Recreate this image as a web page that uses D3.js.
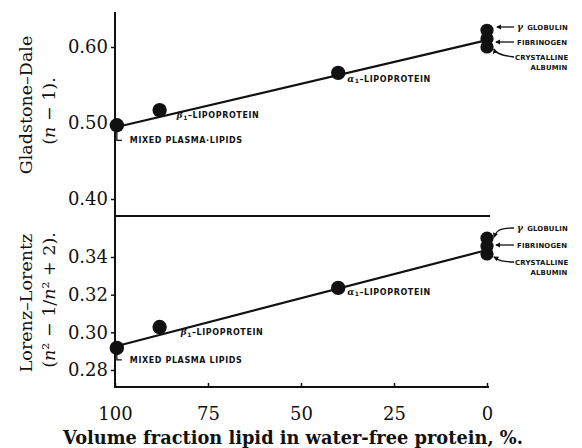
<html>
<head>
<meta charset="utf-8">
<script src="https://cdnjs.cloudflare.com/ajax/libs/d3/7.8.5/d3.min.js"></script>
<style>
body { margin: 0; background: #fff; }
svg text { fill: #111; }
.axis path.domain { display: none; }
.axis line { stroke: #111; stroke-width: 1.5; }
.axis text { font-family: "DejaVu Serif", serif; font-size: 18px; fill: #111; }
.frame { stroke: #111; stroke-width: 2; fill: none; }
.fit { stroke: #111; stroke-width: 2.2; fill: none; }
.lbl { font-family: "DejaVu Sans", sans-serif; font-weight: bold; font-size: 8px; letter-spacing: 0.6px; }
.rlbl { font-family: "DejaVu Sans", sans-serif; font-weight: bold; font-size: 6.9px; letter-spacing: 0.2px; }
.ytitle { font-family: "DejaVu Serif", serif; font-size: 17.5px; }
.xtitle { font-family: "DejaVu Serif", serif; font-size: 17.8px; font-weight: bold; }
.lead { stroke: #111; stroke-width: 1.3; fill: none; }
</style>
</head>
<body>
<script>
// values
var xTicks = [100, 75, 50, 25, 0]
var gdTicks = [0.40, 0.50, 0.60]
var llTicks = [0.28, 0.30, 0.32, 0.34]

var proteins = ["MIXED PLASMA LIPIDS", "LIPOPROTEIN", "LIPOPROTEIN", "GLOBULIN", "FIBRINOGEN", "CRYSTALLINE ALBUMIN"]
var lipidPct = [99.5, 88, 40, 0, 0, 0]
var gladstoneDale = [0.497, 0.517, 0.566, 0.622, 0.611, 0.600]
var lorenzLorentz = [0.2917, 0.3028, 0.3236, 0.3500, 0.3458, 0.3416]

var fitX = [98.4, 0]
var gdFit = [0.496, 0.609]
var llFit = [0.2933, 0.3437]

var W = 582, H = 448

var x = d3.scaleLinear().domain([100, 0]).range([115, 487])
var yTop = d3.scaleLinear().domain([0.40, 0.60]).range([199, 47])
var yBot = d3.scaleLinear().domain([0.28, 0.34]).range([370, 257])

var svg = d3.select("body").append("svg")
    .attr("width", W)
    .attr("height", H)

// frame: left axis, divider, bottom axis
svg.append("path").attr("class", "frame")
    .attr("d", "M115,12V387H489")
svg.append("path").attr("class", "frame")
    .attr("d", "M115,216H490")

svg.append("g").attr("class", "axis")
    .attr("transform", "translate(115,0)")
    .call(d3.axisLeft(yTop).tickValues(gdTicks).tickFormat(d3.format(".2f")).tickSize(4).tickPadding(3))

svg.append("g").attr("class", "axis")
    .attr("transform", "translate(115,0)")
    .call(d3.axisLeft(yBot).tickValues(llTicks).tickFormat(d3.format(".2f")).tickSize(4).tickPadding(3))

svg.append("g").attr("class", "axis")
    .attr("transform", "translate(0,387)")
    .call(d3.axisBottom(x).tickValues(xTicks).tickFormat(d3.format("d")).tickSizeInner(-4).tickSizeOuter(0).tickPadding(20))

// fitted lines
var line = d3.line()
function fitPts(ys, yScale) {
  return fitX.map((v, i) => [x(v), yScale(ys[i])])
}
svg.append("path").attr("class", "fit").attr("d", line(fitPts(gdFit, yTop)))
svg.append("path").attr("class", "fit").attr("d", line(fitPts(llFit, yBot)))

// points
function dots(vals, yScale) {
  svg.append("g").selectAll("circle")
    .data(vals)
    .join("circle")
    .attr("cx", (d, i) => x(lipidPct[i]))
    .attr("cy", d => yScale(d))
    .attr("r", (d, i) => i < 3 ? 7.2 : 6.6)
    .attr("fill", "#111")
}
dots(gladstoneDale, yTop)
dots(lorenzLorentz, yBot)

// annotations
function notes(vals, yScale, g) {
  var p = vals.map((d, i) => [x(lipidPct[i]), yScale(d)])

  // mixed plasma lipids with L leader
  svg.append("path").attr("class", "lead")
    .attr("d", "M" + (p[0][0]) + "," + (p[0][1] + 6) + "v" + (g.mixDy - 4) + "h5")
  svg.append("text").attr("class", "lbl")
    .attr("x", p[0][0] + 13).attr("y", p[0][1] + g.mixDy + 5)
    .text(g.mixText)

  // beta 1
  var b = svg.append("text").attr("class", "lbl")
    .attr("x", p[1][0] + g.b1Dx).attr("y", p[1][1] + g.b1Dy)
  b.append("tspan").attr("font-family", "DejaVu Serif").attr("font-style", "italic").attr("font-size", "9px").text("β")
  b.append("tspan").attr("font-size", "6px").attr("dy", 1.5).text("1")
  b.append("tspan").attr("dy", -1.5).text("–" + proteins[1])

  // alpha 1
  var a = svg.append("text").attr("class", "lbl")
    .attr("x", p[2][0] + 9).attr("y", p[2][1] + g.a1Dy)
  a.append("tspan").attr("font-family", "DejaVu Serif").attr("font-style", "italic").attr("font-size", "9px").text("α")
  a.append("tspan").attr("font-size", "6px").attr("dy", 1.5).text("1")
  a.append("tspan").attr("dy", -1.5).text("–" + proteins[2])

  // right-hand cluster
  var lx = 517
  var gl = svg.append("text").attr("class", "rlbl").attr("x", lx).attr("y", g.gY + 2.5)
  gl.append("tspan").attr("font-family", "DejaVu Serif").attr("font-style", "italic").attr("font-size", "9px").text("γ")
  gl.append("tspan").attr("dx", 4).text(proteins[3])
  svg.append("text").attr("class", "rlbl").attr("x", lx).attr("y", g.fY + 2.5).text(proteins[4])
  svg.append("text").attr("class", "rlbl").attr("x", lx - 2).attr("y", g.cY + 2.5).text("CRYSTALLINE")
  svg.append("text").attr("class", "rlbl").attr("x", lx + 32).attr("y", g.cY + 13)
    .attr("text-anchor", "middle").text("ALBUMIN")

  var cx = p[3][0] + 7
  svg.append("path").attr("class", "lead").attr("marker-end", "url(#ah)")
    .attr("d", g.gPath(cx, p[3][1], lx))
  svg.append("path").attr("class", "lead").attr("marker-end", "url(#ah)")
    .attr("d", "M" + (lx - 3) + "," + g.fY + "H" + (cx + 2))
  svg.append("path").attr("class", "lead").attr("marker-end", "url(#ah)")
    .attr("d", g.cPath(cx, p[5][1], lx))
}

svg.append("defs").append("marker")
    .attr("id", "ah").attr("viewBox", "0 0 6 6").attr("refX", 5).attr("refY", 3)
    .attr("markerWidth", 4).attr("markerHeight", 4).attr("orient", "auto")
  .append("path").attr("d", "M0,0L6,3L0,6z").attr("fill", "#111")

notes(gladstoneDale, yTop, {
  mixText: "MIXED PLASMA·LIPIDS",
  mixDy: 13, b1Dx: 17, b1Dy: 8, a1Dy: 9,
  gY: 27, fY: 42, cY: 57,
  gPath: (cx, cy, lx) => "M" + (lx - 3) + ",27H" + (cx + 3),
  cPath: (cx, cy, lx) => "M" + (lx - 3) + ",57C" + (lx - 10) + ",56 " + (cx + 2) + ",55 " + (cx) + "," + (cy + 2)
})
notes(lorenzLorentz, yBot, {
  mixText: proteins[0],
  mixDy: 10, b1Dx: 21, b1Dy: 8, a1Dy: 7,
  gY: 228, fY: 245, cY: 262,
  gPath: (cx, cy, lx) => "M" + (lx - 3) + ",228C" + (cx + 3) + ",228 " + (cx + 2) + ",232 " + (cx) + "," + (cy - 1),
  cPath: (cx, cy, lx) => "M" + (lx - 3) + ",262C" + (cx + 3) + ",262 " + (cx + 2) + ",258 " + (cx) + "," + (cy + 3)
})

// axis titles
function ytitle(cx, cy, build) {
  var t = svg.append("text").attr("class", "ytitle")
    .attr("text-anchor", "middle")
    .attr("transform", "translate(" + cx + "," + cy + ") rotate(-90)")
  build(t)
}
ytitle(32, 105, t => t.text("Gladstone–Dale"))
ytitle(55, 111, t => {
  t.append("tspan").text("(")
  t.append("tspan").attr("font-style", "italic").text("n")
  t.append("tspan").text(" − 1).")
})
ytitle(32, 303, t => t.text("Lorenz–Lorentz"))
ytitle(55, 300, t => {
  t.append("tspan").text("(")
  t.append("tspan").attr("font-style", "italic").text("n")
  t.append("tspan").text("² − 1/")
  t.append("tspan").attr("font-style", "italic").text("n")
  t.append("tspan").text("² + 2).")
})

svg.append("text").attr("class", "xtitle")
    .attr("x", 293).attr("y", 444)
    .attr("text-anchor", "middle")
    .text("Volume fraction lipid in water-free protein, %.")
</script>
</body>
</html>
